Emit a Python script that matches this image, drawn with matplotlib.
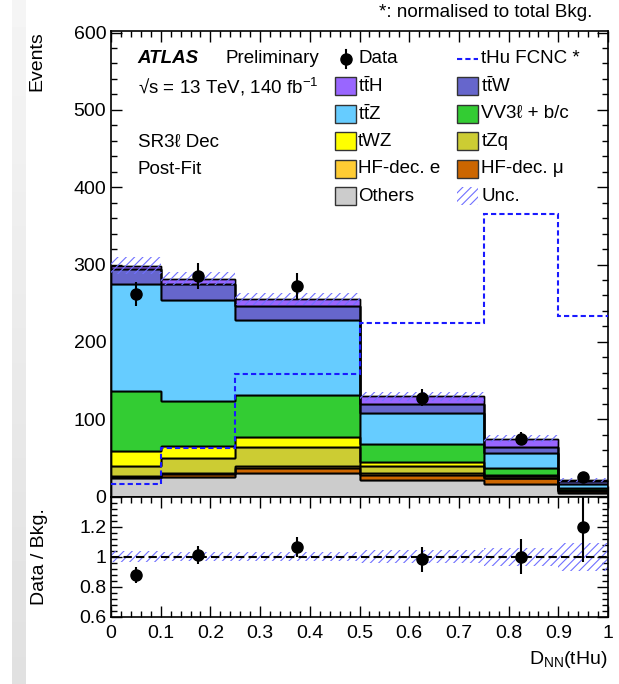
import matplotlib
matplotlib.use('Agg')
import matplotlib.pyplot as plt
from matplotlib.patches import Rectangle
from matplotlib.lines import Line2D
from matplotlib.ticker import MultipleLocator, FixedLocator, FuncFormatter
import numpy as np

plt.rcParams['font.family'] = ['Liberation Sans', 'DejaVu Sans']
plt.rcParams['mathtext.fontset'] = 'custom'
plt.rcParams['mathtext.rm'] = 'Liberation Sans'
plt.rcParams['mathtext.it'] = 'Liberation Sans:italic'
plt.rcParams['mathtext.bf'] = 'Liberation Sans:bold'
plt.rcParams['hatch.linewidth'] = 0.8

# binning of D_NN(tHu)
edges = [0, 0.1, 0.25, 0.5, 0.75, 0.9, 1.0]

# post-fit background yields per bin (stack order bottom -> top)
others = [23.6, 24.8, 30.7, 21.3, 16.1, 5.0]
hf_mu = [1.6, 3.8, 6.0, 6.8, 7.4, 2.0]
hf_e = [1.5, 1.4, 3.0, 2.6, 0.8, 0.5]
tzq = [12.3, 19.2, 24.0, 9.0, 2.2, 1.0]
twz = [20.0, 16.3, 13.1, 5.3, 1.2, 0.5]
vv = [77.5, 58.1, 54.2, 22.4, 8.7, 1.5]
ttz = [138.5, 129.9, 97.1, 40.0, 20.1, 5.6]
ttw = [19.5, 20.7, 17.7, 11.6, 7.0, 3.5]
tth = [4.2, 7.3, 9.8, 10.7, 11.5, 1.7]

# total uncertainty on background
bkg_unc = [10.5, 8.5, 7.7, 5.8, 4.5, 2.0]

# tHu FCNC signal (normalised to total bkg.)
signal = [15.7, 63.0, 159.0, 224.0, 365.0, 234.0]

# data
data = [262, 285, 272, 127.5, 75, 25.5]
data_err = [16, 17, 17, 11, 8.7, 5]

stack = [
    ('Others', others, '#cccccc'),
    ('HF-dec. μ', hf_mu, '#cc6600'),
    ('HF-dec. e', hf_e, '#ffcc33'),
    ('tZq', tzq, '#cccc33'),
    ('tWZ', twz, '#ffff00'),
    ('VV3ℓ + b/c', vv, '#33cc33'),
    (r'$\mathrm{t\bar{t}Z}$', ttz, '#66ccff'),
    (r'$\mathrm{t\bar{t}W}$', ttw, '#6666cc'),
    (r'$\mathrm{t\bar{t}H}$', tth, '#9966ff'),
]

edges = np.array(edges)
centers = 0.5 * (edges[1:] + edges[:-1])
total = np.sum([np.array(s[1]) for s in stack], axis=0)
unc = np.array(bkg_unc)

fig = plt.figure(figsize=(6.19, 6.84), dpi=100)

# light gray stripe at the left of the screenshot
sax = fig.add_axes([12 / 619, 0, 14 / 619, 1])
sax.imshow(np.linspace(0.96, 0.88, 100).reshape(-1, 1), cmap='gray', vmin=0, vmax=1,
           aspect='auto', extent=[0, 1, 0, 1], origin='upper')
sax.axis('off')

ax = fig.add_axes([0.1793, 0.2741, 0.8030, 0.6806])
rax = fig.add_axes([0.1793, 0.0980, 0.8030, 0.1761])

base = np.zeros(len(total))
for name, vals, col in stack:
    top = base + np.array(vals)
    ax.stairs(top, edges, baseline=base, fill=True, facecolor=col,
              edgecolor='black', linewidth=1.0, zorder=2)
    ax.stairs(top, edges, baseline=base, fill=False, color='black',
              linewidth=1.0, zorder=2.5)
    base = top

ax.stairs(total + unc, edges, baseline=total - unc, fill=True, facecolor='none',
          edgecolor='#7070ff', hatch='////', linewidth=0, zorder=3)
ax.stairs(signal, edges, color='#1a1aff', linestyle=(0, (2.5, 1.5)), linewidth=1.5,
          baseline=None, zorder=4)
ax.errorbar(centers, data, yerr=data_err, fmt='o', color='black', markersize=8,
            elinewidth=1.5, capsize=0, zorder=5)

xticks = np.round(np.arange(0, 1.01, 0.1), 1)
ax.set_xlim(0, 1)
ax.set_ylim(0, 602)
ax.yaxis.set_major_locator(MultipleLocator(100))
ax.yaxis.set_minor_locator(MultipleLocator(20))
ax.xaxis.set_major_locator(FixedLocator(xticks))
ax.xaxis.set_minor_locator(MultipleLocator(0.02))
ax.tick_params(labelbottom=False)
ax.set_ylabel('Events', fontsize=14, loc='top', labelpad=20)

# ratio panel
ratio = np.array(data) / total
ratio_err = np.array(data_err) / total
rel = unc / total
rax.stairs(1 + rel, edges, baseline=1 - rel, fill=True, facecolor='none',
           edgecolor='#7070ff', hatch='////', linewidth=0, zorder=2)
rax.axhline(1, color='black', linestyle=(0, (4, 2)), linewidth=1.5, zorder=3)
rax.errorbar(centers, ratio, yerr=ratio_err, fmt='o', color='black', markersize=8,
             elinewidth=1.5, capsize=0, zorder=5)
rax.set_xlim(0, 1)
rax.set_ylim(0.6, 1.4)
rax.yaxis.set_major_locator(FixedLocator([0.6, 0.8, 1.0, 1.2, 1.4]))
rax.yaxis.set_major_formatter(FuncFormatter(lambda v, p: '' if v > 1.3 else '%g' % v))
rax.yaxis.set_minor_locator(MultipleLocator(0.04))
rax.xaxis.set_major_locator(FixedLocator(xticks))
rax.xaxis.set_major_formatter(FuncFormatter(lambda v, p: '%g' % round(v, 1)))
rax.xaxis.set_minor_locator(MultipleLocator(0.02))
rax.set_ylabel('Data / Bkg.', fontsize=14, labelpad=22)
rax.set_xlabel(r'D$_{\mathrm{NN}}$(tHu)', fontsize=14, loc='right', labelpad=5)

for a in (ax, rax):
    a.tick_params(which='both', direction='in', top=True, right=True, labelsize=14,
                  width=1.0)
    a.tick_params(which='major', length=8)
    a.tick_params(which='minor', length=4)
    for sp in a.spines.values():
        sp.set_linewidth(1.2)
rax.tick_params(axis='x', which='major', pad=6)

# labels
tr = ax.transAxes
ax.text(0.054, 0.940, 'ATLAS', transform=tr, fontsize=13.5, fontweight='bold',
        fontstyle='italic', va='center')
ax.text(0.231, 0.940, 'Preliminary', transform=tr, fontsize=13.5, va='center')
ax.text(0.054, 0.880, '√s = 13 TeV, 140 fb$^{\\mathrm{-1}}$', transform=tr,
        fontsize=13.5, va='center')
ax.text(0.054, 0.761, 'SR3ℓ Dec', transform=tr, fontsize=13.5, va='center')
ax.text(0.054, 0.703, 'Post-Fit', transform=tr, fontsize=13.5, va='center')
fig.text(0.957, 0.981, '*: normalised to total Bkg.', fontsize=13.5, ha='right',
         va='center')

# legend, two columns
names = {s[0]: s for s in stack}
col1 = ['Data', r'$\mathrm{t\bar{t}H}$', r'$\mathrm{t\bar{t}Z}$', 'tWZ', 'HF-dec. e', 'Others']
col2 = ['tHu FCNC *', r'$\mathrm{t\bar{t}W}$', 'VV3ℓ + b/c', 'tZq', 'HF-dec. μ', 'Unc.']
row_y = 0.940 - 0.0591 * np.arange(6)
pw, ph = 0.042, 0.0387
for cx, tx, col in ((0.451, 0.497, col1), (0.696, 0.745, col2)):
    for y, lab in zip(row_y, col):
        if lab == 'Data':
            ax.add_line(Line2D([cx + pw / 2] * 2, [y - ph / 2, y + ph / 2], color='black',
                               lw=1.5, transform=tr))
            ax.plot([cx + pw / 2], [y], 'o', color='black', markersize=8, transform=tr)
        elif lab == 'tHu FCNC *':
            ax.add_line(Line2D([cx, cx + pw], [y, y], color='#1a1aff', lw=1.5,
                               linestyle=(0, (2.5, 1.5)), transform=tr))
        elif lab == 'Unc.':
            ax.add_patch(Rectangle((cx, y - ph / 2), pw, ph, facecolor='none',
                                   edgecolor='#7070ff', hatch='////', linewidth=0,
                                   transform=tr))
        else:
            ax.add_patch(Rectangle((cx, y - ph / 2), pw, ph, facecolor=names[lab][2],
                                   edgecolor='#333333', linewidth=1.0, transform=tr))
        ax.text(tx, y, lab, transform=tr, fontsize=13.5, va='center')

fig.savefig('out.png', dpi=100)
